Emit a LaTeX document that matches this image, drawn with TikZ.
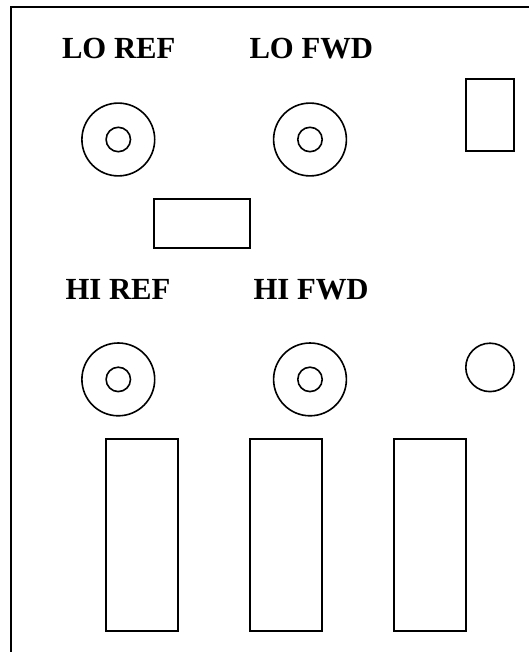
\documentclass[tikz,border=0pt]{standalone}
\usepackage{fontspec}
\setmainfont{Liberation Serif}
\tikzset{
  part/.style={draw=black,line width=1.6pt,fill=none},
  boxpart/.style={draw=black,line width=2pt,fill=none},
  frameline/.style={draw=black,line width=2pt},
  lbl/.style={anchor=base west,inner sep=0pt,outer sep=0pt,font=\fontsize{30.7}{32}\selectfont\bfseries,text=black}
}
\begin{document}
\begin{tikzpicture}[x=1pt,y=-1pt]
\useasboundingbox[fill=white] (0,0) rectangle (529,652);
% panel outline: open on the right and at the bottom
\draw[frameline] (529,7) -- (10.6,7) -- (10.6,652);
% labels
\node[lbl] (loref) at (62,59) {LO REF};
\node[lbl] (lofwd) at (249.5,59) {LO FWD};
\node[lbl] (hiref) at (65.5,299.3) {HI REF};
\node[lbl] (hifwd) at (253.5,299.3) {HI FWD};
% connectors
\foreach \cx/\cy in {118.3/139.5,310/139.5,118.3/379.4,310/379.4}{
  \draw[part] (\cx,\cy) circle[radius=36.4];
  \draw[part] (\cx,\cy) circle[radius=12.2];
}
\draw[part] (490,367.4) circle[radius=24.2];
% rectangles
\draw[boxpart] (154,199.5) rectangle (250.4,247.5);
\draw[boxpart] (466,79.4) rectangle (514.3,151.5);
\draw[boxpart] (106,439.4) rectangle (178.3,631.4);
\draw[boxpart] (250,439.4) rectangle (322.4,631.4);
\draw[boxpart] (394,439.4) rectangle (466.3,631.4);
\end{tikzpicture}
\end{document}
